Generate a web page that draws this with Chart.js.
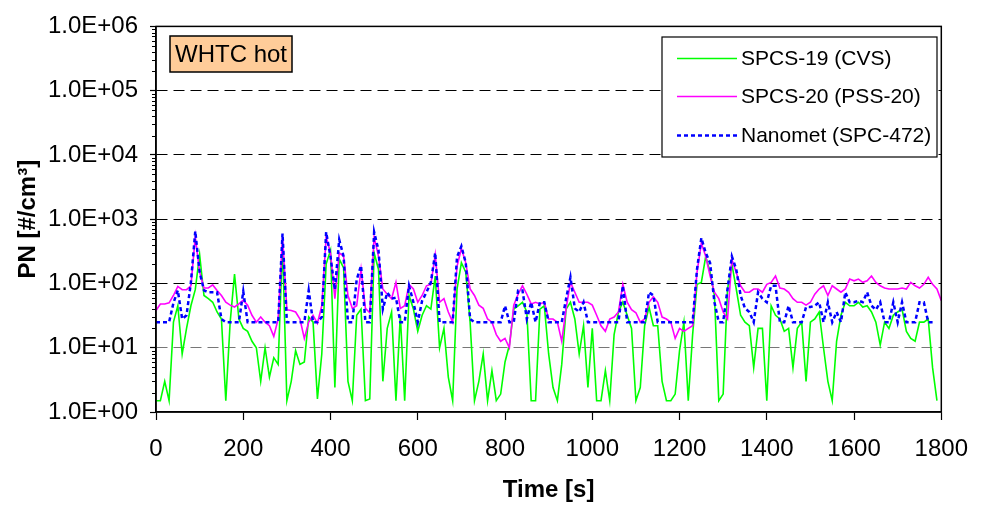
<!DOCTYPE html>
<html>
<head>
<meta charset="utf-8">
<script src="https://cdn.jsdelivr.net/npm/chart.js@4.4.1/dist/chart.umd.min.js"></script>
<style>
  html, body { margin: 0; padding: 0; background: #fff; }
  #c { display: block; }
</style>
</head>
<body>
<canvas id="c" width="983" height="506"></canvas>
<script>
// ---- data ----
const time = [
  0,10,20,30,40,50,60,70,80,90,
  100,110,120,130,140,150,160,170,180,190,
  200,210,220,230,240,250,260,270,280,290,
  300,310,320,330,340,350,360,370,380,390,
  400,410,420,430,440,450,460,470,480,490,
  500,510,520,530,540,550,560,570,580,590,
  600,610,620,630,640,650,660,670,680,690,
  700,710,720,730,740,750,760,770,780,790,
  800,810,820,830,840,850,860,870,880,890,
  900,910,920,930,940,950,960,970,980,990,
  1000,1010,1020,1030,1040,1050,1060,1070,1080,1090,
  1100,1110,1120,1130,1140,1150,1160,1170,1180,1190,
  1200,1210,1220,1230,1240,1250,1260,1270,1280,1290,
  1300,1310,1320,1330,1340,1350,1360,1370,1380,1390,
  1400,1410,1420,1430,1440,1450,1460,1470,1480,1490,
  1500,1510,1520,1530,1540,1550,1560,1570,1580,1590,
  1600,1610,1620,1630,1640,1650,1660,1670,1680,1690,
  1700,1710,1720,1730,1740,1750,1760,1770,1780,1790,
  1800
];

// SPCS-19 (CVS) - green
const spcs19 = [
  1.5,1.5,3,1.5,25,45,8,20,45,80,
  280,65,58,51,36,28,1.5,25,140,28,
  20,18,12.6,10,3,10,3.5,7,5.5,400,
  1.5,3,9,5.5,6,30,25,1.6,8,200,
  330,2.4,240,175,3,1.5,32,40,1.5,1.6,
  300,165,3,20,36,1.5,32,1.5,65,40,
  18,32,45,40,130,10,20,3.5,1.5,82,
  210,150,25,1.5,3,8,1.5,4.4,1.5,1.9,
  6,11,40,45,51,36,1.5,1.5,40,45,
  8,2.4,1.5,5.5,40,51,28,8,22,2.4,
  20,1.5,1.5,4.4,1.5,16,36,51,32,20,
  1.5,2.4,22,43,22,22,3,1.5,1.5,1.9,
  9,25,1.5,16,97,104,264,150,65,1.5,
  1.9,82,200,82,32,25,22,4.9,20,20,
  1.5,45,32,28,18,20,4.9,20,25,3,
  25,28,36,10,3,1.5,12.6,32,51,45,
  45,51,43,45,36,25,11,25,20,32,
  36,40,18,14,12.6,25,25,28,4.9,1.5,
  null
];

// SPCS-20 (PSS-20) - magenta
const spcs20 = [
  38,48,48,50,65,90,80,80,92,530,
  150,85,85,95,78,65,51,46,43,48,
  55,46,32,25,30,25,22,15,28,530,
  39,38,36,28,14,25,32,24,45,530,
  300,58,300,264,65,41,45,166,41,35,
  530,264,82,68,58,104,41,45,97,82,
  51,65,92,97,280,51,58,36,25,185,
  350,209,82,65,46,41,28,25,16,12.6,
  14,10,46,68,92,68,48,51,48,51,
  28,28,25,12.6,41,104,73,51,51,51,
  46,32,22,18,28,30,36,97,51,39,
  35,25,28,51,62,51,30,28,25,14,
  20,18,20,22,148,423,264,131,73,58,
  36,28,236,148,92,73,73,82,82,73,
  97,104,131,85,82,73,58,51,51,46,
  51,68,82,92,65,92,82,73,82,117,
  110,117,104,110,131,104,92,85,82,82,
  82,85,82,104,92,85,97,125,97,82,
  54
];

// Nanomet (SPC-472) - blue dotted
const nanomet = [
  25,25,25,25,50,78,28,32,104,650,
  150,78,73,73,73,28,25,25,25,25,
  75,25,25,25,25,25,25,25,25,600,
  25,25,25,25,25,78,25,25,30,630,
  260,80,480,264,25,25,115,190,25,25,
  630,330,40,72,58,60,25,25,92,51,
  25,54,73,104,300,25,25,25,25,260,
  380,209,28,25,25,25,25,25,25,25,
  45,25,25,78,78,28,51,25,51,51,
  25,25,25,25,58,125,41,36,51,25,
  25,25,25,25,25,25,25,92,25,25,
  25,25,25,73,65,25,25,25,25,25,
  25,25,25,25,166,510,300,209,51,25,
  25,82,264,166,65,41,36,25,73,58,
  51,92,92,25,25,45,25,25,25,43,
  43,45,51,25,51,25,36,25,73,51,
  51,54,51,73,45,39,51,25,25,51,
  25,51,25,25,25,51,51,25,25,null,
  null
];

const seriesNames = ['SPCS-19 (CVS)', 'SPCS-20 (PSS-20)', 'Nanomet (SPC-472)'];
const xTicks = [0,200,400,600,800,1000,1200,1400,1600,1800];
const yTicks = [1,10,100,1000,10000,100000,1000000];
const boxLabel = 'WHTC hot';

// ---- chart ----
const FONT = "'Liberation Sans', Arial, Helvetica, sans-serif";
const pts = arr => time.map((t, i) => ({ x: t, y: arr[i] }));

const decor = {
  id: 'decor',
  afterDatasetsDraw(chart) {
    const { ctx, chartArea: a, scales: { y } } = chart;
    ctx.save();
    // plot border
    ctx.strokeStyle = '#000';
    ctx.lineWidth = 1.5;
    ctx.setLineDash([]);
    ctx.strokeRect(a.left, a.top, a.right - a.left, a.bottom - a.top);
    // minor ticks on the log axis
    ctx.lineWidth = 1;
    for (let e = 0; e < 6; e++) {
      for (let m = 2; m <= 9; m++) {
        const py = Math.round(y.getPixelForValue(m * Math.pow(10, e))) + 0.5;
        ctx.beginPath();
        ctx.moveTo(a.left - 4, py);
        ctx.lineTo(a.left, py);
        ctx.stroke();
      }
    }
    // "WHTC hot" label box
    ctx.fillStyle = '#FFCC99';
    ctx.fillRect(170, 36, 122, 36);
    ctx.lineWidth = 1.5;
    ctx.strokeRect(170, 36, 122, 36);
    ctx.fillStyle = '#000';
    ctx.font = `24px ${FONT}`;
    ctx.textAlign = 'center';
    ctx.textBaseline = 'middle';
    ctx.fillText(boxLabel, 231, 55);
    // legend
    ctx.fillStyle = '#fff';
    ctx.fillRect(662, 37, 275, 120);
    ctx.strokeStyle = '#000';
    ctx.lineWidth = 1.2;
    ctx.strokeRect(662, 37, 275, 120);
    const rows = [58, 96, 135];
    chart.data.datasets.forEach((ds, i) => {
      const ry = rows[i];
      ctx.save();
      ctx.strokeStyle = ds.borderColor;
      ctx.lineWidth = ds.borderWidth;
      ctx.setLineDash(ds.borderDash || []);
      ctx.beginPath();
      ctx.moveTo(677, ry + 0.5);
      ctx.lineTo(737, ry + 0.5);
      ctx.stroke();
      ctx.restore();
      ctx.fillStyle = '#000';
      ctx.font = `21px ${FONT}`;
      ctx.textAlign = 'left';
      ctx.textBaseline = 'middle';
      ctx.fillText(ds.label, 741, ry + 1);
    });
    ctx.restore();
  }
};

new Chart(document.getElementById('c'), {
  type: 'line',
  data: {
    datasets: [
      { label: seriesNames[0], data: pts(spcs19), borderColor: '#00FF00', borderWidth: 1.6, order: 3, spanGaps: false },
      { label: seriesNames[1], data: pts(spcs20), borderColor: '#FF00FF', borderWidth: 1.6, order: 2, spanGaps: false },
      { label: seriesNames[2], data: pts(nanomet), borderColor: '#0000FF', borderWidth: 2.5, borderDash: [4, 3], order: 1, spanGaps: false }
    ]
  },
  options: {
    responsive: false,
    animation: false,
    devicePixelRatio: 1,
    layout: { padding: { top: 17, right: 29, left: 0, bottom: 0 } },
    plugins: { legend: { display: false }, tooltip: { enabled: false } },
    elements: { point: { radius: 0 }, line: { tension: 0, fill: false } },
    scales: {
      x: {
        type: 'linear', min: 0, max: 1800,
        afterBuildTicks: s => { s.ticks = xTicks.map(v => ({ value: v })); },
        afterFit: s => { s.height = 94; },
        grid: { drawOnChartArea: false, drawTicks: true, tickLength: 8, tickColor: '#000', tickWidth: 1.2, color: '#000' },
        border: { color: '#000', width: 1.5 },
        ticks: { color: '#000', font: { family: FONT, size: 24 }, padding: 15, maxRotation: 0, autoSkip: false,
          callback: v => String(v) },
        title: { display: true, text: 'Time [s]', color: '#000', font: { family: FONT, size: 24, weight: 'bold' }, padding: { top: 0, bottom: 1 } }
      },
      y: {
        type: 'logarithmic', min: 1, max: 1000000,
        afterBuildTicks: s => { s.ticks = yTicks.map(v => ({ value: v, major: true })); },
        afterFit: s => { s.width = 156; },
        grid: {
          color: c => (c.tick && (c.tick.value === 1 || c.tick.value === 1000000)) ? 'rgba(0,0,0,0)' : (c.tick && c.tick.value === 10 ? '#777' : '#000'),
          lineWidth: 1, drawTicks: true, tickLength: 6, tickColor: '#000', tickWidth: 1.2
        },
        border: { color: '#000', width: 1.5, dash: [11, 6] },
        ticks: {
          color: '#000', font: { family: FONT, size: 24 }, padding: 12, autoSkip: false,
          callback: v => '1.0E+' + String(Math.round(Math.log10(v))).padStart(2, '0')
        },
        title: { display: true, text: 'PN [#/cm³]', color: '#000', font: { family: FONT, size: 24, weight: 'bold' }, padding: { top: 14, bottom: 0 } }
      }
    }
  },
  plugins: [decor]
});
</script>
</body>
</html>
